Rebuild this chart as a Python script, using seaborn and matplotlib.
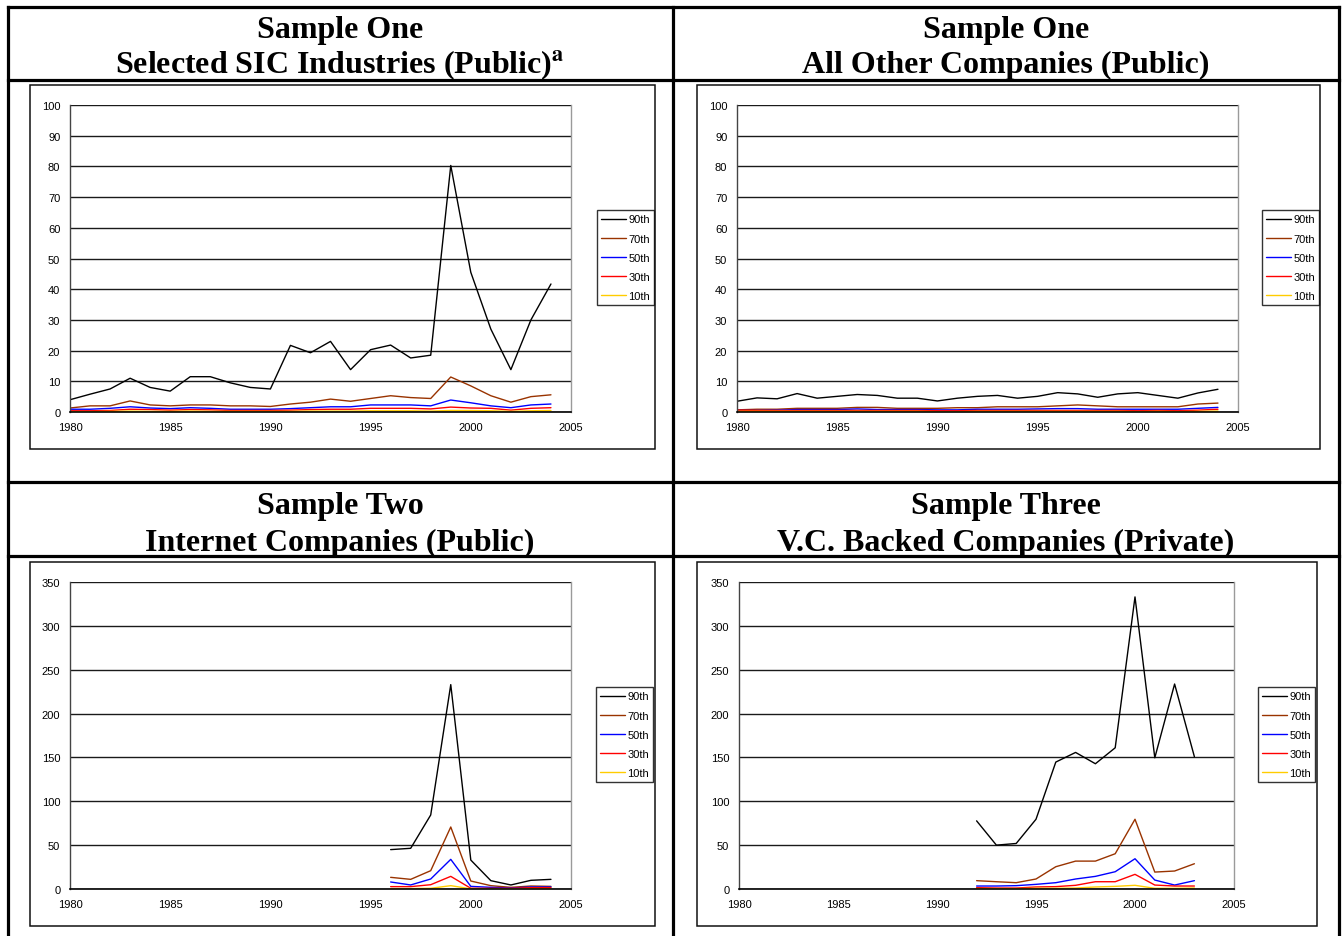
import matplotlib
matplotlib.use("Agg")
import matplotlib.pyplot as plt
import seaborn as sns
import pandas as pd
from matplotlib.lines import Line2D
from matplotlib.patches import Rectangle

# ---------------- data ----------------
pct_labels = ["90th", "70th", "50th", "30th", "10th"]
pct_colors = ["#000000", "#993300", "#0000FF", "#FF0000", "#FFCC00"]

years_s1 = list(range(1980, 2005))
sic_90 = [4.0, 5.8, 7.5, 11.0, 8.0, 6.8, 11.5, 11.5, 9.5, 8.0, 7.5, 21.7, 19.3, 23.0, 13.8,
          20.3, 21.8, 17.6, 18.5, 80.3, 45.5, 27.0, 13.8, 30.0, 41.7]
sic_70 = [1.3, 2.0, 2.0, 3.6, 2.3, 2.0, 2.3, 2.3, 2.0, 2.0, 1.8, 2.6, 3.2, 4.2, 3.5,
          4.4, 5.3, 4.7, 4.4, 11.4, 8.5, 5.3, 3.2, 5.0, 5.6]
sic_50 = [0.9, 0.9, 1.2, 1.7, 1.3, 1.1, 1.4, 1.2, 0.9, 0.9, 0.9, 1.1, 1.4, 1.7, 1.7,
          2.3, 2.3, 2.3, 2.0, 3.9, 3.0, 2.0, 1.4, 2.3, 2.6]
sic_30 = [0.4, 0.4, 0.5, 0.9, 0.8, 0.6, 0.8, 0.7, 0.5, 0.5, 0.5, 0.6, 0.8, 0.9, 0.9,
          1.2, 1.2, 1.2, 1.0, 1.6, 1.3, 1.2, 0.6, 1.2, 1.4]
sic_10 = [0.1, 0.1, 0.2, 0.3, 0.2, 0.2, 0.3, 0.2, 0.2, 0.2, 0.2, 0.2, 0.3, 0.3, 0.3,
          0.4, 0.4, 0.4, 0.3, 0.5, 0.5, 0.4, 0.2, 0.4, 0.5]

oth_90 = [3.5, 4.6, 4.3, 6.0, 4.5, 5.1, 5.7, 5.4, 4.5, 4.5, 3.6, 4.5, 5.1, 5.4, 4.5,
          5.1, 6.3, 5.9, 4.8, 5.9, 6.3, 5.4, 4.5, 6.2, 7.4]
oth_70 = [0.7, 0.9, 0.9, 1.2, 1.2, 1.2, 1.5, 1.5, 1.2, 1.2, 1.2, 1.4, 1.4, 1.7, 1.7,
          1.7, 2.0, 2.3, 2.0, 1.7, 1.7, 1.7, 1.7, 2.6, 2.9]
oth_50 = [0.5, 0.5, 0.6, 0.8, 0.8, 0.8, 1.0, 0.8, 0.8, 0.8, 0.7, 0.7, 0.9, 0.9, 0.9,
          1.0, 1.1, 1.1, 0.9, 0.9, 0.9, 0.9, 0.9, 1.2, 1.5]
oth_30 = [0.6, 0.5, 0.5, 0.5, 0.5, 0.5, 0.5, 0.5, 0.5, 0.5, 0.4, 0.4, 0.5, 0.5, 0.5,
          0.5, 0.5, 0.5, 0.5, 0.5, 0.4, 0.5, 0.4, 0.6, 0.9]
oth_10 = [0.2, 0.2, 0.2, 0.2, 0.2, 0.2, 0.2, 0.2, 0.2, 0.2, 0.1, 0.1, 0.2, 0.2, 0.2,
          0.2, 0.2, 0.2, 0.2, 0.2, 0.1, 0.2, 0.1, 0.2, 0.3]

years_s2 = list(range(1996, 2005))
net_90 = [44.9, 46.4, 84.4, 233.0, 33.0, 9.5, 4.6, 9.9, 11.0]
net_70 = [13.3, 11.0, 20.9, 70.7, 9.1, 3.8, 1.9, 3.4, 3.0]
net_50 = [8.0, 4.6, 11.4, 33.8, 3.0, 1.9, 1.1, 2.3, 2.3]
net_30 = [2.7, 2.7, 4.9, 14.4, 0.8, 0.8, 0.8, 1.5, 1.5]
net_10 = [0.4, 0.5, 0.8, 3.8, 0.2, 0.2, 0.2, 0.2, 0.2]

years_s3 = list(range(1992, 2004))
vc_90 = [77.7, 50.0, 51.9, 79.5, 144.7, 155.7, 142.8, 161.0, 333.0, 149.6, 233.7, 150.8]
vc_70 = [9.5, 8.3, 7.2, 11.4, 25.4, 31.8, 31.8, 40.2, 79.5, 19.3, 20.5, 28.8]
vc_50 = [3.4, 3.4, 3.8, 5.3, 7.2, 11.4, 14.4, 19.7, 34.5, 10.2, 4.5, 9.5]
vc_30 = [1.5, 1.1, 1.1, 2.3, 2.7, 4.2, 8.3, 8.3, 16.7, 4.5, 3.4, 3.4]
vc_10 = [0.4, 0.4, 0.4, 0.8, 0.8, 1.1, 2.3, 3.0, 4.2, 0.8, 0.8, 1.1]

title_tl = ["Sample One", r"Selected SIC Industries (Public)$^{\mathbf{a}}$"]
title_tr = ["Sample One", "All Other Companies (Public)"]
title_bl = ["Sample Two", "Internet Companies (Public)"]
title_br = ["Sample Three", "V.C. Backed Companies (Private)"]

x_ticks = [1980, 1985, 1990, 1995, 2000, 2005]


def long_df(years, series):
    rows = []
    for lab, vals in zip(pct_labels, series):
        for y, v in zip(years, vals):
            rows.append({"year": y, "value": v, "pct": lab})
    return pd.DataFrame(rows)


# ---------------- figure ----------------
sns.set_style("white")
plt.rcParams["font.family"] = ["Liberation Sans", "DejaVu Sans"]
plt.rcParams["mathtext.fontset"] = "stix"
plt.rcParams["text.color"] = "black"

W, H = 1342, 937
fig = plt.figure(figsize=(W / 100, H / 100), dpi=100)
fig.patch.set_facecolor("white")


def fx(x):
    return x / W


def fy(y):
    return 1 - y / H


# table lines
tbl_lw = 2.3
for (x0, y0, x1, y1) in [
    (8, 8, 1339, 8),
    (8, 81, 1339, 81),
    (8, 483, 1339, 483),
    (8, 557, 1339, 557),
    (8, 8, 8, 940),
    (1339, 8, 1339, 940),
    (673, 8, 673, 940),
]:
    fig.add_artist(Line2D([fx(x0), fx(x1)], [fy(y0), fy(y1)], transform=fig.transFigure,
                          color="black", lw=tbl_lw, solid_capstyle="projecting"))

# titles
for cx, (ly1, ly2), (t1, t2) in [
    (340, (38, 73), title_tl),
    (1006, (38, 73), title_tr),
    (340, (514, 551), title_bl),
    (1006, (514, 551), title_br),
]:
    for ly, t in [(ly1, t1), (ly2, t2)]:
        fig.text(fx(cx), fy(ly), t, ha="center", va="baseline", fontsize=23,
                 fontweight="bold", family="Liberation Serif", color="black")

panels = [
    # frame (l,t,r,b), axes (l,t,r,b), legend anchor (x,y), years, series, ymax, ystep
    ((30, 86, 655, 450), (70, 106, 571, 413), (597, 211), years_s1,
     [sic_90, sic_70, sic_50, sic_30, sic_10], 100, 10),
    ((697, 86, 1320, 450), (737, 106, 1238, 413), (1262, 211), years_s1,
     [oth_90, oth_70, oth_50, oth_30, oth_10], 100, 10),
    ((30, 563, 655, 927), (70, 583, 571, 890), (596, 688), years_s2,
     [net_90, net_70, net_50, net_30, net_10], 350, 50),
    ((697, 563, 1317, 927), (739, 583, 1234, 890), (1258, 688), years_s3,
     [vc_90, vc_70, vc_50, vc_30, vc_10], 350, 50),
]

palette = dict(zip(pct_labels, pct_colors))

for frame, axbox, leg_anchor, years, series, ymax, ystep in panels:
    l, t, r, b = frame
    fig.add_artist(Rectangle((fx(l), fy(b)), (r - l) / W, (b - t) / H, transform=fig.transFigure,
                             fill=False, ec="#111111", lw=1.1))
    l, t, r, b = axbox
    ax = fig.add_axes([fx(l), fy(b), (r - l) / W, (b - t) / H])
    df = long_df(years, series)
    sns.lineplot(data=df, x="year", y="value", hue="pct", hue_order=pct_labels,
                 palette=palette, lw=1.0, ax=ax, legend=True)
    ax.set_xlim(1980, 2005)
    ax.set_ylim(0, ymax)
    ax.set_xticks(x_ticks)
    ax.set_yticks(list(range(0, ymax + 1, ystep)))
    ax.set_xlabel("")
    ax.set_ylabel("")
    ax.grid(axis="y", color="#1a1a1a", lw=1.0)
    ax.grid(axis="x", visible=False)
    ax.set_axisbelow(True)
    ax.spines["top"].set_visible(False)
    ax.spines["right"].set_color("#9a9a9a")
    ax.spines["right"].set_linewidth(1.0)
    ax.spines["left"].set_color("#444444")
    ax.spines["left"].set_linewidth(1.0)
    ax.spines["bottom"].set_color("black")
    ax.spines["bottom"].set_linewidth(1.2)
    ax.tick_params(axis="both", direction="out", length=4, width=1.0, labelsize=8,
                   colors="black", pad=3)
    ax.tick_params(axis="y", color="#444444")
    handles, labels = ax.get_legend_handles_labels()
    if ax.get_legend() is not None:
        ax.get_legend().remove()
    leg = ax.legend(handles, labels, loc="upper left",
                    bbox_to_anchor=(fx(leg_anchor[0]), fy(leg_anchor[1])),
                    bbox_transform=fig.transFigure, frameon=True, fancybox=False,
                    edgecolor="black", fontsize=8, handlelength=2.2, handletextpad=0.2,
                    labelspacing=0.82, borderpad=0.4, borderaxespad=0)
    leg.get_frame().set_linewidth(1.0)
    for txt in leg.get_texts():
        txt.set_color("black")
    for h in leg.get_lines():
        h.set_linewidth(1.0)

fig.savefig("out.png", dpi=100, facecolor="white")
